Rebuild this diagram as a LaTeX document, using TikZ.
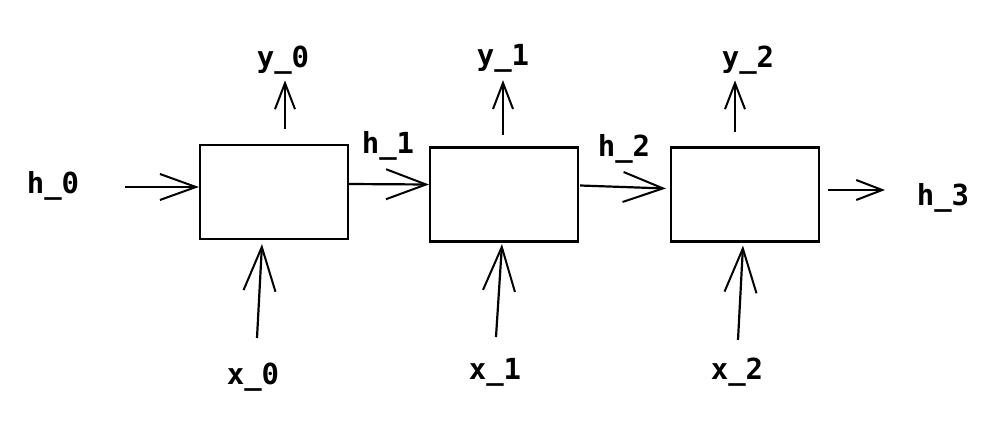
\documentclass[tikz,border=0pt]{standalone}
\usepackage{fontspec}
\newfontfamily\lblfont{DejaVu Sans Mono Bold}
\usetikzlibrary{arrows.meta,calc}
\begin{document}
\begin{tikzpicture}[x=1pt,y=-1pt,
  cell/.style={draw,line width=2.2pt,minimum width=148pt,minimum height=94pt,inner sep=0pt},
  lbl/.style={font=\lblfont\fontsize{29}{32}\selectfont,inner sep=0pt,text=black},
  conn/.style={line width=2.2pt},
  bigtip/.style={-{Straight Barb[length=40pt,width=30pt,line width=2pt]}},
  midtip/.style={-{Straight Barb[length=36pt,width=26pt,line width=2pt]}},
  smalltip/.style={-{Straight Barb[length=26pt,width=20pt,line width=2pt]}},
  uptip/.style={-{Straight Barb[length=44pt,width=32pt,line width=2pt]}}]
\useasboundingbox[fill=white] (0,0) rectangle (1002,430);
% cells
\node[cell] (c0) at (274,192) {};
\node[cell] (c1) at (504,194.5) {};
\node[cell] (c2) at (745,194.5) {};
% labels
\node[lbl] (h0) at (53,186) {h\_0};
\node[lbl] (h1) at (388,146) {h\_1};
\node[lbl] (h2) at (624,149) {h\_2};
\node[lbl] (h3) at (943,198) {h\_3};
\node[lbl] (y0) at (283,60) {y\_0};
\node[lbl] (y1) at (503,58) {y\_1};
\node[lbl] (y2) at (748,60) {y\_2};
\node[lbl] (x0) at (253,377) {x\_0};
\node[lbl] (x1) at (495,372) {x\_1};
\node[lbl] (x2) at (737,372) {x\_2};
% free ends
\coordinate (hs0) at (125,187);
\coordinate (hs3) at (828,190);
\coordinate (ys0) at (285,129);
\coordinate (ys1) at (503,135);
\coordinate (ys2) at (735,132);
\coordinate (xs0) at (257,338);
\coordinate (xs1) at (496,337);
\coordinate (xs2) at (738,340);
% horizontal connectors
\draw[conn,midtip] (hs0) -- ($(c0.west)+(0,-5)$);
\draw[conn,bigtip] ($(c0.east)+(-2,-8)$) -- ($(c1.west)+(0,-10)$);
\draw[conn,bigtip] ($(c1.east)+(1,-9)$) -- ($(c2.west)+(-4,-6)$);
\draw[conn,smalltip] (hs3) -- ($(hs3)+(57,0)$);
% outputs
\draw[conn,smalltip] (ys0) -- ($(ys0 |- y0.south)+(0,6)$);
\draw[conn,smalltip] (ys1) -- ($(ys1 |- y1.south)+(0,8)$);
\draw[conn,smalltip] (ys2) -- ($(ys2 |- y2.south)+(0,6)$);
% inputs
\draw[conn,uptip] (xs0) -- ($(c0.south)+(-12,4)$);
\draw[conn,uptip] (xs1) -- ($(c1.south)+(-2,1.5)$);
\draw[conn,uptip] (xs2) -- ($(c2.south)+(-2,3)$);
\end{tikzpicture}
\end{document}
